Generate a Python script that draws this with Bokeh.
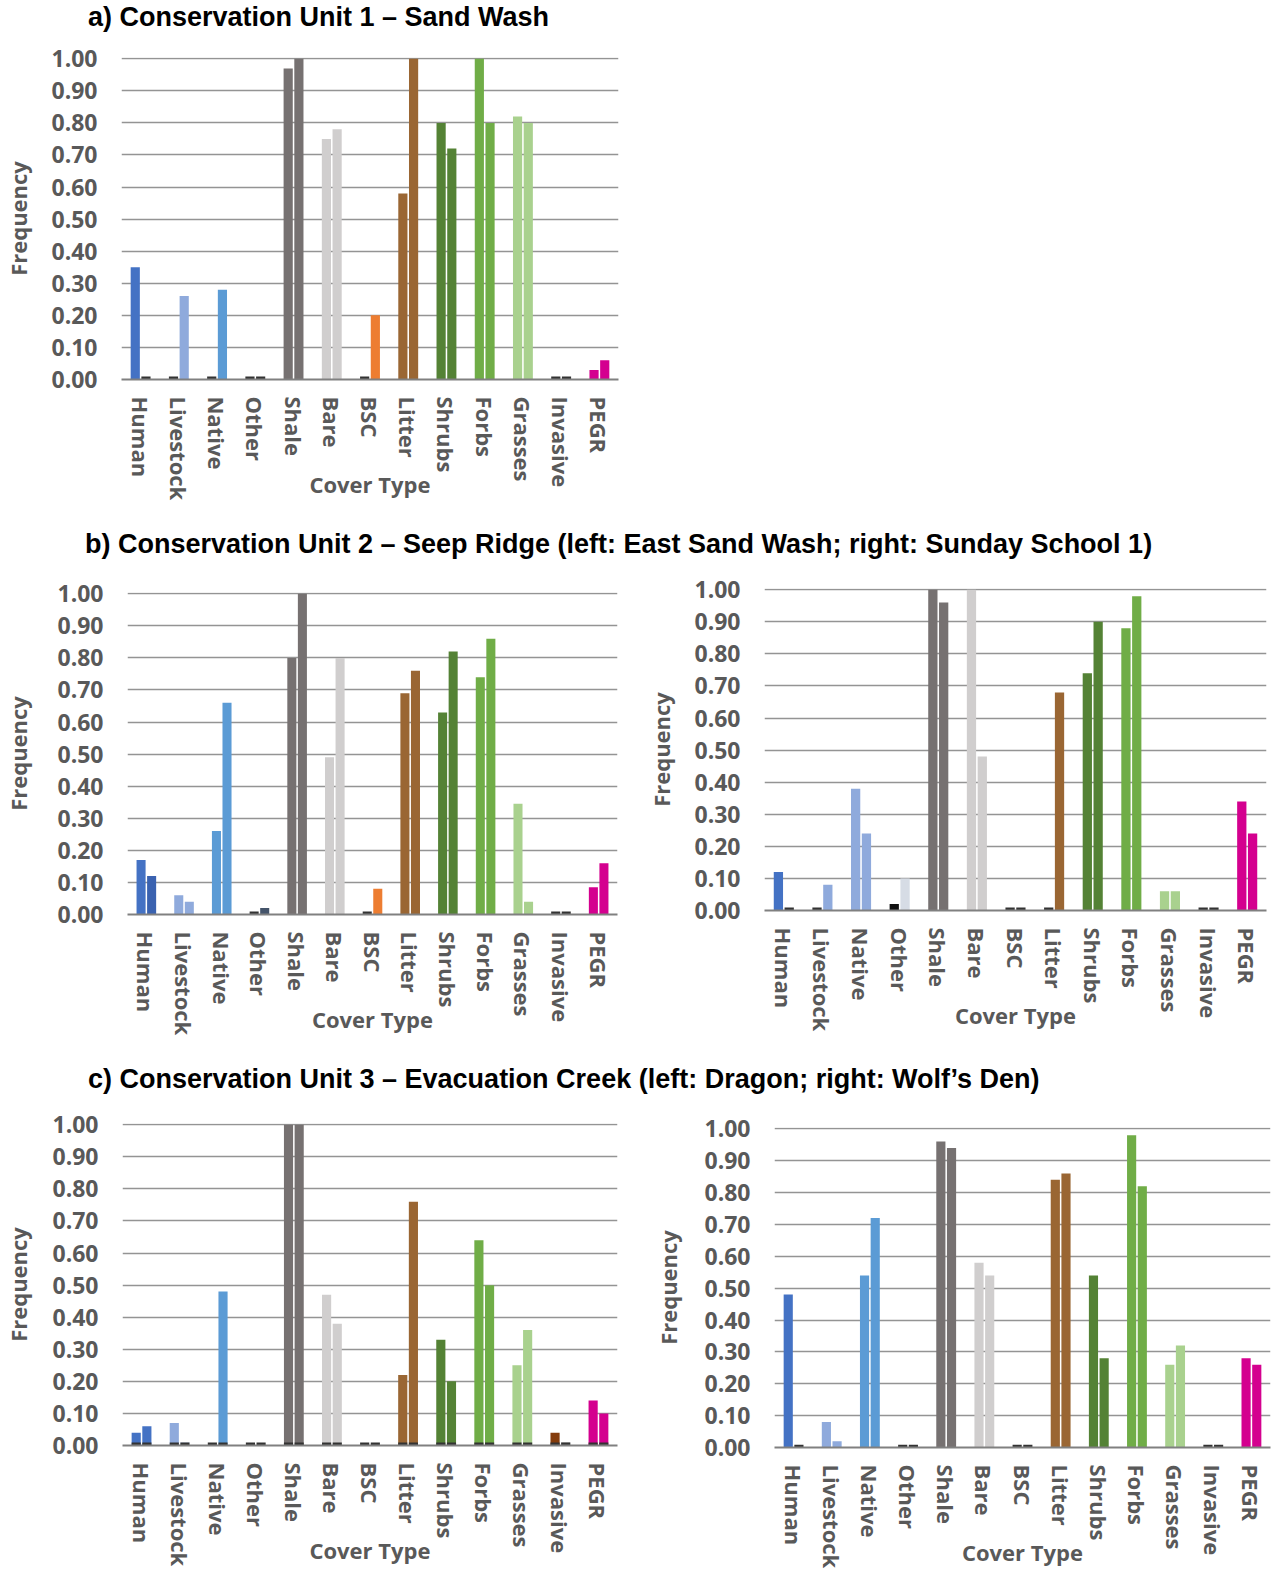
from bokeh.plotting import figure
from bokeh.layouts import column, row
from bokeh.models import (FactorRange, Range1d, FixedTicker, NumeralTickFormatter,
                          ColumnDataSource, Div)
from bokeh.transform import dodge
from bokeh.embed import file_html
from bokeh.resources import INLINE

cover_types = ["Human", "Livestock", "Native", "Other", "Shale", "Bare", "BSC",
               "Litter", "Shrubs", "Forbs", "Grasses", "Invasive", "PEGR"]

y_ticks = [0.0, 0.1, 0.2, 0.3, 0.4, 0.5, 0.6, 0.7, 0.8, 0.9, 1.0]

titles = [
    "a) Conservation Unit 1 \u2013 Sand Wash",
    "b) Conservation Unit 2 \u2013 Seep Ridge (left: East Sand Wash; right: Sunday School 1)",
    "c) Conservation Unit 3 \u2013 Evacuation Creek (left: Dragon; right: Wolf\u2019s Den)",
]

# Frequency per cover type, two bars per category
sand_wash_1 = [0.35, 0.00, 0.00, 0.00, 0.97, 0.75, 0.00, 0.58, 0.80, 1.00, 0.82, 0.00, 0.03]
sand_wash_2 = [0.00, 0.26, 0.28, 0.00, 1.00, 0.78, 0.20, 1.00, 0.72, 0.80, 0.80, 0.00, 0.06]

east_sand_wash_1 = [0.17, 0.06, 0.26, 0.00, 0.80, 0.49, 0.00, 0.69, 0.63, 0.74, 0.345, 0.00, 0.085]
east_sand_wash_2 = [0.12, 0.04, 0.66, 0.02, 1.00, 0.80, 0.08, 0.76, 0.82, 0.86, 0.04, 0.00, 0.16]

sunday_school_1 = [0.12, 0.00, 0.38, 0.02, 1.00, 1.00, 0.00, 0.00, 0.74, 0.88, 0.06, 0.00, 0.34]
sunday_school_2 = [0.00, 0.08, 0.24, 0.10, 0.96, 0.48, 0.00, 0.68, 0.90, 0.98, 0.06, 0.00, 0.24]

dragon_1 = [0.04, 0.07, 0.00, 0.00, 1.00, 0.47, 0.00, 0.22, 0.33, 0.64, 0.25, 0.04, 0.14]
dragon_2 = [0.06, 0.01, 0.48, 0.00, 1.00, 0.38, 0.00, 0.76, 0.20, 0.50, 0.36, 0.01, 0.10]

wolfs_den_1 = [0.48, 0.08, 0.54, 0.00, 0.96, 0.58, 0.00, 0.84, 0.54, 0.98, 0.26, 0.00, 0.28]
wolfs_den_2 = [0.00, 0.02, 0.72, 0.00, 0.94, 0.54, 0.00, 0.86, 0.28, 0.82, 0.32, 0.00, 0.26]

cover_colors = ["#4472C4", "#8FAADC", "#5B9BD5", "#44546A", "#767171", "#D0CECE", "#ED7D31",
                "#9A6633", "#548235", "#70AD47", "#A9D18E", "#843C0C", "#D4008F"]

TICK_FONT = "Open Sans"
GREY_TEXT = "#595959"
ZERO_MARK = "#333333"


def recolor(changes):
    cols = list(cover_colors)
    for name, col in changes.items():
        cols[cover_types.index(name)] = col
    return cols


def bar_panel(first, second, cols1, cols2, width, height, borders,
              ylabel_gap=14, base_marks_all=False):
    left, right, top, bottom = borders
    p = figure(x_range=FactorRange(*cover_types), y_range=Range1d(0, 1.004),
               width=width, height=height,
               min_border_left=left, min_border_right=right,
               min_border_top=top, min_border_bottom=bottom,
               output_backend="svg", toolbar_location=None)
    src = ColumnDataSource(dict(cat=cover_types, first=first, second=second, c1=cols1, c2=cols2))
    p.vbar(x=dodge("cat", -0.14, range=p.x_range), top="first", width=0.24,
           source=src, fill_color="c1", line_color=None)
    p.vbar(x=dodge("cat", 0.14, range=p.x_range), top="second", width=0.24,
           source=src, fill_color="c2", line_color=None)

    # short dark marks at the base where a series has no cover
    for vals, off in ((first, -0.14), (second, 0.14)):
        cats = [c for c, v in zip(cover_types, vals) if base_marks_all or v == 0]
        if cats:
            p.vbar(x=dodge("cat", off, range=p.x_range), top=0.009, width=0.24,
                   source=ColumnDataSource(dict(cat=cats)),
                   fill_color=ZERO_MARK, line_color=None)

    p.outline_line_color = None
    p.xgrid.grid_line_color = None
    p.ygrid.ticker = FixedTicker(ticks=y_ticks)
    p.ygrid.grid_line_color = "#949494"
    p.ygrid.grid_line_width = 1.5

    ya = p.yaxis[0]
    ya.ticker = FixedTicker(ticks=y_ticks)
    ya.formatter = NumeralTickFormatter(format="0.00")
    ya.axis_line_color = None
    ya.major_tick_line_color = None
    ya.minor_tick_line_color = None
    ya.major_tick_out = 0
    ya.major_label_standoff = 24
    ya.major_label_text_font = TICK_FONT
    ya.major_label_text_font_style = "bold"
    ya.major_label_text_font_size = "23px"
    ya.major_label_text_color = GREY_TEXT
    ya.axis_label = "Frequency"
    ya.axis_label_standoff = ylabel_gap
    ya.axis_label_text_font = TICK_FONT
    ya.axis_label_text_font_style = "bold"
    ya.axis_label_text_font_size = "22px"
    ya.axis_label_text_color = GREY_TEXT

    xa = p.xaxis[0]
    xa.axis_line_color = "#808080"
    xa.axis_line_width = 2
    xa.major_tick_line_color = None
    xa.major_tick_out = 0
    xa.major_label_orientation = "vertical"
    xa.major_label_standoff = 17
    xa.major_label_text_font = TICK_FONT
    xa.major_label_text_font_style = "bold"
    xa.major_label_text_font_size = "22px"
    xa.major_label_text_color = GREY_TEXT
    # the axis title sits among the longer category names
    xa.axis_label = "Cover Type"
    xa.axis_label_standoff = -34
    xa.axis_label_text_font = TICK_FONT
    xa.axis_label_text_font_style = "bold"
    xa.axis_label_text_font_size = "22px"
    xa.axis_label_text_color = GREY_TEXT
    return p


def title_strip(text, indent, height, cy):
    return Div(text=text, width=1273, height=height,
               styles={"font-family": "Liberation Sans", "font-weight": "bold",
                       "font-size": "27px", "color": "#000000", "white-space": "nowrap",
                       "text-indent": f"{indent}px", "line-height": f"{2 * cy}px",
                       "margin": "0", "padding": "0"})


fig_a = bar_panel(sand_wash_1, sand_wash_2, cover_colors, cover_colors,
                  640, 490, (120, 22, 21, 147), ylabel_gap=15)
fig_bl = bar_panel(east_sand_wash_1, east_sand_wash_2, cover_colors,
                   recolor({"Human": "#3A62B0"}),
                   640, 500, (127, 23, 30, 148), ylabel_gap=21)
fig_br = bar_panel(sunday_school_1, sunday_school_2,
                   recolor({"Native": "#8FAADC", "Other": "#111111"}),
                   recolor({"Native": "#8FAADC", "Other": "#D6DCE5"}),
                   633, 500, (124, 7, 26, 152), ylabel_gap=15)
fig_cl = bar_panel(dragon_1, dragon_2, cover_colors,
                   recolor({"Invasive": "#BFBFBF", "Livestock": "#C9D3E6"}),
                   640, 472, (122, 23, 25, 125), ylabel_gap=16, base_marks_all=True)
fig_cr = bar_panel(wolfs_den_1, wolfs_den_2, cover_colors, cover_colors,
                   633, 472, (134, 3, 29, 121), ylabel_gap=18)

layout = column(
    title_strip(titles[0], 88, 36, 17),
    row(fig_a),
    title_strip(titles[1], 85, 36, 18),
    row(column(fig_bl), column(fig_br)),
    title_strip(titles[2], 88, 36, 17),
    row(column(fig_cl), column(fig_cr)),
)

open("out.html", "w").write(file_html(layout, INLINE))
